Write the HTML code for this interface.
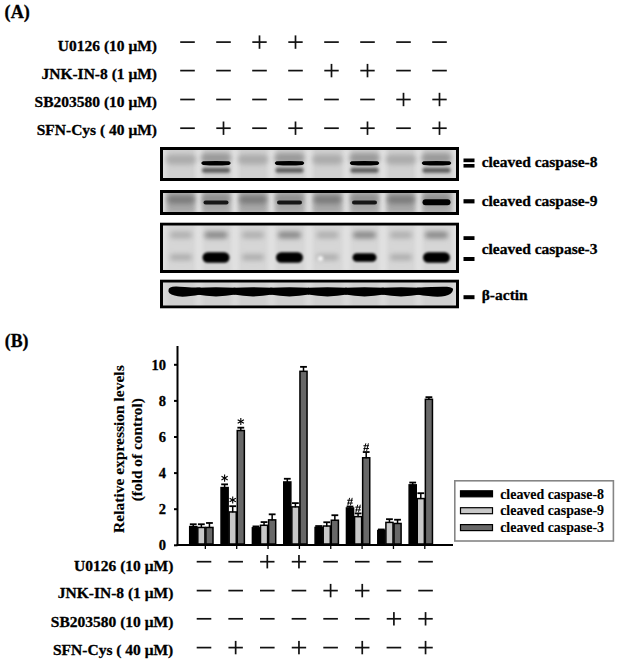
<!DOCTYPE html>
<html><head><meta charset="utf-8"><style>
html,body{margin:0;padding:0;background:#fff;width:621px;height:663px;overflow:hidden}
svg{display:block}
</style></head><body>
<svg width="621" height="663" viewBox="0 0 621 663">
<defs>
<filter id="b1" x="-50%" y="-100%" width="200%" height="300%"><feGaussianBlur stdDeviation="1.6"/></filter>
<filter id="b2" x="-50%" y="-100%" width="200%" height="300%"><feGaussianBlur stdDeviation="2.5"/></filter>
<filter id="b3" x="-50%" y="-50%" width="200%" height="200%"><feGaussianBlur stdDeviation="4"/></filter>
<filter id="b06" x="-50%" y="-100%" width="200%" height="300%"><feGaussianBlur stdDeviation="0.6"/></filter>
<filter id="b05" x="-50%" y="-100%" width="200%" height="300%"><feGaussianBlur stdDeviation="0.9"/></filter>
</defs>
<rect width="621" height="663" fill="#fff"/>
<text x="4.6" y="17.8" font-family='"Liberation Serif", serif' font-size="18.2" font-weight="bold" text-anchor="start" fill="#000" stroke="#000" stroke-width="0.3" >(A)</text>
<text x="157" y="50.7" font-family='"Liberation Serif", serif' font-size="15.5" font-weight="bold" text-anchor="end" fill="#000" stroke="#000" stroke-width="0.3" >U0126 (10 μM)</text>
<rect x="180.20" y="41.25" width="14.60" height="1.7" fill="#111"/>
<rect x="216.20" y="41.25" width="14.60" height="1.7" fill="#111"/>
<rect x="252.30" y="41.25" width="14.40" height="1.7" fill="#111"/>
<rect x="258.65" y="35.40" width="1.7" height="13.40" fill="#111"/>
<rect x="288.30" y="41.25" width="14.40" height="1.7" fill="#111"/>
<rect x="294.65" y="35.40" width="1.7" height="13.40" fill="#111"/>
<rect x="324.20" y="41.25" width="14.60" height="1.7" fill="#111"/>
<rect x="360.20" y="41.25" width="14.60" height="1.7" fill="#111"/>
<rect x="396.20" y="41.25" width="14.60" height="1.7" fill="#111"/>
<rect x="432.20" y="41.25" width="14.60" height="1.7" fill="#111"/>
<text x="157" y="78.6" font-family='"Liberation Serif", serif' font-size="15.5" font-weight="bold" text-anchor="end" fill="#000" stroke="#000" stroke-width="0.3" >JNK-IN-8 (1 μM)</text>
<rect x="180.20" y="69.75" width="14.60" height="1.7" fill="#111"/>
<rect x="216.20" y="69.75" width="14.60" height="1.7" fill="#111"/>
<rect x="252.20" y="69.75" width="14.60" height="1.7" fill="#111"/>
<rect x="288.20" y="69.75" width="14.60" height="1.7" fill="#111"/>
<rect x="324.30" y="69.75" width="14.40" height="1.7" fill="#111"/>
<rect x="330.65" y="63.90" width="1.7" height="13.40" fill="#111"/>
<rect x="360.30" y="69.75" width="14.40" height="1.7" fill="#111"/>
<rect x="366.65" y="63.90" width="1.7" height="13.40" fill="#111"/>
<rect x="396.20" y="69.75" width="14.60" height="1.7" fill="#111"/>
<rect x="432.20" y="69.75" width="14.60" height="1.7" fill="#111"/>
<text x="157" y="106.7" font-family='"Liberation Serif", serif' font-size="15.5" font-weight="bold" text-anchor="end" fill="#000" stroke="#000" stroke-width="0.3" >SB203580 (10 μM)</text>
<rect x="180.20" y="98.65" width="14.60" height="1.7" fill="#111"/>
<rect x="216.20" y="98.65" width="14.60" height="1.7" fill="#111"/>
<rect x="252.20" y="98.65" width="14.60" height="1.7" fill="#111"/>
<rect x="288.20" y="98.65" width="14.60" height="1.7" fill="#111"/>
<rect x="324.20" y="98.65" width="14.60" height="1.7" fill="#111"/>
<rect x="360.20" y="98.65" width="14.60" height="1.7" fill="#111"/>
<rect x="396.30" y="98.65" width="14.40" height="1.7" fill="#111"/>
<rect x="402.65" y="92.80" width="1.7" height="13.40" fill="#111"/>
<rect x="432.30" y="98.65" width="14.40" height="1.7" fill="#111"/>
<rect x="438.65" y="92.80" width="1.7" height="13.40" fill="#111"/>
<text x="157" y="134.6" font-family='"Liberation Serif", serif' font-size="15.5" font-weight="bold" text-anchor="end" fill="#000" stroke="#000" stroke-width="0.3" >SFN-Cys ( 40 μM)</text>
<rect x="180.20" y="127.35" width="14.60" height="1.7" fill="#111"/>
<rect x="216.30" y="127.35" width="14.40" height="1.7" fill="#111"/>
<rect x="222.65" y="121.50" width="1.7" height="13.40" fill="#111"/>
<rect x="252.20" y="127.35" width="14.60" height="1.7" fill="#111"/>
<rect x="288.30" y="127.35" width="14.40" height="1.7" fill="#111"/>
<rect x="294.65" y="121.50" width="1.7" height="13.40" fill="#111"/>
<rect x="324.20" y="127.35" width="14.60" height="1.7" fill="#111"/>
<rect x="360.30" y="127.35" width="14.40" height="1.7" fill="#111"/>
<rect x="366.65" y="121.50" width="1.7" height="13.40" fill="#111"/>
<rect x="396.20" y="127.35" width="14.60" height="1.7" fill="#111"/>
<rect x="432.30" y="127.35" width="14.40" height="1.7" fill="#111"/>
<rect x="438.65" y="121.50" width="1.7" height="13.40" fill="#111"/>
<clipPath id="clip147"><rect x="160" y="147" width="299" height="34"/></clipPath>
<g clip-path="url(#clip147)">
<rect x="160" y="147" width="299" height="34" fill="#d0d0d0"/>
<rect x="159.5" y="147" width="6" height="34" fill="#e4e4e4" filter="url(#b2)"/>
<rect x="196" y="147" width="6" height="34" fill="#e4e4e4" filter="url(#b2)"/>
<rect x="232" y="147" width="6" height="34" fill="#e4e4e4" filter="url(#b2)"/>
<rect x="268.5" y="147" width="6" height="34" fill="#e4e4e4" filter="url(#b2)"/>
<rect x="306" y="147" width="6" height="34" fill="#e4e4e4" filter="url(#b2)"/>
<rect x="343.5" y="147" width="6" height="34" fill="#e4e4e4" filter="url(#b2)"/>
<rect x="380" y="147" width="6" height="34" fill="#e4e4e4" filter="url(#b2)"/>
<rect x="416" y="147" width="6" height="34" fill="#e4e4e4" filter="url(#b2)"/>
<rect x="453" y="147" width="6" height="34" fill="#e4e4e4" filter="url(#b2)"/>
<rect x="166.00" y="154.50" width="30.00" height="10.00" rx="5.00" fill="#acacac" opacity="1" filter="url(#b2)"/>
<rect x="201.00" y="153.00" width="30.00" height="10.00" rx="5.00" fill="#9a9a9a" opacity="1" filter="url(#b2)"/>
<path d="M203,161.2 Q216,160.9 229,161.2 Q232.5,163.0 229,164.9 Q216,165.9 203,164.9 Q199.5,163.0 203,161.2 Z" fill="#000" filter="url(#b06)"/>
<rect x="202.00" y="167.70" width="28.00" height="5.00" rx="2.50" fill="#5e5e5e" opacity="1" filter="url(#b1)"/>
<rect x="238.00" y="154.50" width="30.00" height="10.00" rx="5.00" fill="#acacac" opacity="1" filter="url(#b2)"/>
<rect x="274.50" y="153.00" width="30.00" height="10.00" rx="5.00" fill="#9a9a9a" opacity="1" filter="url(#b2)"/>
<path d="M276.5,161.2 Q289.5,160.9 302.5,161.2 Q306.0,163.0 302.5,164.9 Q289.5,165.9 276.5,164.9 Q273.0,163.0 276.5,161.2 Z" fill="#000" filter="url(#b06)"/>
<rect x="275.50" y="167.70" width="28.00" height="5.00" rx="2.50" fill="#5e5e5e" opacity="1" filter="url(#b1)"/>
<rect x="312.50" y="154.50" width="30.00" height="10.00" rx="5.00" fill="#acacac" opacity="1" filter="url(#b2)"/>
<rect x="349.50" y="153.00" width="30.00" height="10.00" rx="5.00" fill="#9a9a9a" opacity="1" filter="url(#b2)"/>
<path d="M351.5,161.2 Q364.5,160.9 377.5,161.2 Q381.0,163.0 377.5,164.9 Q364.5,165.9 351.5,164.9 Q348.0,163.0 351.5,161.2 Z" fill="#000" filter="url(#b06)"/>
<rect x="350.50" y="167.70" width="28.00" height="5.00" rx="2.50" fill="#5e5e5e" opacity="1" filter="url(#b1)"/>
<rect x="386.00" y="154.50" width="30.00" height="10.00" rx="5.00" fill="#acacac" opacity="1" filter="url(#b2)"/>
<rect x="421.50" y="153.00" width="30.00" height="10.00" rx="5.00" fill="#9a9a9a" opacity="1" filter="url(#b2)"/>
<path d="M423.5,161.2 Q436.5,160.9 449.5,161.2 Q453.0,163.0 449.5,164.9 Q436.5,165.9 423.5,164.9 Q420.0,163.0 423.5,161.2 Z" fill="#000" filter="url(#b06)"/>
<rect x="422.50" y="167.70" width="28.00" height="5.00" rx="2.50" fill="#5e5e5e" opacity="1" filter="url(#b1)"/>
<rect x="161.5" y="148.5" width="296" height="31" fill="none" stroke="#000" stroke-width="3"/>
</g>
<clipPath id="clip190"><rect x="160" y="190" width="299" height="25"/></clipPath>
<g clip-path="url(#clip190)">
<rect x="160" y="190" width="299" height="25" fill="#bcbcbc"/>
<rect x="159.5" y="190" width="6" height="25" fill="#e6e6e6" filter="url(#b2)"/>
<rect x="196" y="190" width="6" height="25" fill="#e6e6e6" filter="url(#b2)"/>
<rect x="232" y="190" width="6" height="25" fill="#e6e6e6" filter="url(#b2)"/>
<rect x="268.5" y="190" width="6" height="25" fill="#e6e6e6" filter="url(#b2)"/>
<rect x="306" y="190" width="6" height="25" fill="#e6e6e6" filter="url(#b2)"/>
<rect x="343.5" y="190" width="6" height="25" fill="#e6e6e6" filter="url(#b2)"/>
<rect x="380" y="190" width="6" height="25" fill="#e6e6e6" filter="url(#b2)"/>
<rect x="416" y="190" width="6" height="25" fill="#e6e6e6" filter="url(#b2)"/>
<rect x="453" y="190" width="6" height="25" fill="#e6e6e6" filter="url(#b2)"/>
<rect x="168" y="193" width="26" height="19" fill="#a6a6a6" filter="url(#b2)"/>
<rect x="203" y="193" width="26" height="19" fill="#a6a6a6" filter="url(#b2)"/>
<rect x="240" y="193" width="26" height="19" fill="#a6a6a6" filter="url(#b2)"/>
<rect x="276.5" y="193" width="26" height="19" fill="#a6a6a6" filter="url(#b2)"/>
<rect x="314.5" y="193" width="26" height="19" fill="#a6a6a6" filter="url(#b2)"/>
<rect x="351.5" y="193" width="26" height="19" fill="#a6a6a6" filter="url(#b2)"/>
<rect x="388" y="193" width="26" height="19" fill="#a6a6a6" filter="url(#b2)"/>
<rect x="423.5" y="193" width="26" height="19" fill="#a6a6a6" filter="url(#b2)"/>
<rect x="167.50" y="195.50" width="27.00" height="8.00" rx="4.00" fill="#7a7a7a" opacity="1" filter="url(#b2)"/>
<rect x="202.50" y="195.00" width="27.00" height="8.00" rx="4.00" fill="#8e8e8e" opacity="1" filter="url(#b2)"/>
<rect x="203.50" y="200.60" width="25.00" height="4.00" rx="2.00" fill="#181818" opacity="1" filter="url(#b06)"/>
<rect x="239.50" y="195.50" width="27.00" height="8.00" rx="4.00" fill="#7a7a7a" opacity="1" filter="url(#b2)"/>
<rect x="276.00" y="195.00" width="27.00" height="8.00" rx="4.00" fill="#8e8e8e" opacity="1" filter="url(#b2)"/>
<rect x="277.00" y="200.60" width="25.00" height="4.00" rx="2.00" fill="#181818" opacity="1" filter="url(#b06)"/>
<rect x="314.00" y="195.50" width="27.00" height="8.00" rx="4.00" fill="#7a7a7a" opacity="1" filter="url(#b2)"/>
<rect x="351.00" y="195.00" width="27.00" height="8.00" rx="4.00" fill="#8e8e8e" opacity="1" filter="url(#b2)"/>
<rect x="352.00" y="200.60" width="25.00" height="4.00" rx="2.00" fill="#181818" opacity="1" filter="url(#b06)"/>
<rect x="387.50" y="195.50" width="27.00" height="8.00" rx="4.00" fill="#7a7a7a" opacity="1" filter="url(#b2)"/>
<rect x="423.00" y="195.00" width="27.00" height="8.00" rx="4.00" fill="#8e8e8e" opacity="1" filter="url(#b2)"/>
<rect x="424.00" y="200.60" width="25.00" height="4.00" rx="2.00" fill="#181818" opacity="1" filter="url(#b06)"/>
<rect x="422.50" y="199.20" width="28.00" height="6.00" rx="3.00" fill="#000" opacity="1" filter="url(#b06)"/>
<rect x="161.5" y="191.5" width="296" height="22" fill="none" stroke="#000" stroke-width="3"/>
</g>
<clipPath id="clip222"><rect x="160" y="222.5" width="299" height="50.5"/></clipPath>
<g clip-path="url(#clip222)">
<rect x="160" y="222.5" width="299" height="50.5" fill="#d6d6d6"/>
<rect x="159.5" y="222.5" width="6" height="50.5" fill="#e4e4e4" filter="url(#b2)"/>
<rect x="196" y="222.5" width="6" height="50.5" fill="#e4e4e4" filter="url(#b2)"/>
<rect x="232" y="222.5" width="6" height="50.5" fill="#e4e4e4" filter="url(#b2)"/>
<rect x="268.5" y="222.5" width="6" height="50.5" fill="#e4e4e4" filter="url(#b2)"/>
<rect x="306" y="222.5" width="6" height="50.5" fill="#e4e4e4" filter="url(#b2)"/>
<rect x="343.5" y="222.5" width="6" height="50.5" fill="#e4e4e4" filter="url(#b2)"/>
<rect x="380" y="222.5" width="6" height="50.5" fill="#e4e4e4" filter="url(#b2)"/>
<rect x="416" y="222.5" width="6" height="50.5" fill="#e4e4e4" filter="url(#b2)"/>
<rect x="453" y="222.5" width="6" height="50.5" fill="#e4e4e4" filter="url(#b2)"/>
<rect x="170.00" y="231.50" width="22.00" height="7.00" rx="3.50" fill="#b0b0b0" opacity="1" filter="url(#b2)"/>
<rect x="170.00" y="254.30" width="22.00" height="6.00" rx="3.00" fill="#acacac" opacity="1" filter="url(#b2)"/>
<rect x="204.50" y="231.50" width="23.00" height="7.00" rx="3.50" fill="#8a8a8a" opacity="1" filter="url(#b2)"/>
<rect x="202.50" y="252.25" width="27.00" height="10.50" rx="5.25" fill="#000" opacity="1" filter="url(#b05)"/>
<rect x="242.00" y="231.50" width="22.00" height="7.00" rx="3.50" fill="#b0b0b0" opacity="1" filter="url(#b2)"/>
<rect x="242.00" y="254.30" width="22.00" height="6.00" rx="3.00" fill="#acacac" opacity="1" filter="url(#b2)"/>
<rect x="278.00" y="231.50" width="23.00" height="7.00" rx="3.50" fill="#8a8a8a" opacity="1" filter="url(#b2)"/>
<rect x="276.00" y="252.25" width="27.00" height="10.50" rx="5.25" fill="#000" opacity="1" filter="url(#b05)"/>
<rect x="316.50" y="231.50" width="22.00" height="7.00" rx="3.50" fill="#b0b0b0" opacity="1" filter="url(#b2)"/>
<rect x="316.50" y="254.30" width="22.00" height="6.00" rx="3.00" fill="#acacac" opacity="1" filter="url(#b2)"/>
<rect x="353.00" y="231.50" width="23.00" height="7.00" rx="3.50" fill="#8a8a8a" opacity="1" filter="url(#b2)"/>
<rect x="352.50" y="253.25" width="24.00" height="8.50" rx="4.25" fill="#000" opacity="1" filter="url(#b05)"/>
<rect x="390.00" y="231.50" width="22.00" height="7.00" rx="3.50" fill="#b0b0b0" opacity="1" filter="url(#b2)"/>
<rect x="390.00" y="254.30" width="22.00" height="6.00" rx="3.00" fill="#acacac" opacity="1" filter="url(#b2)"/>
<rect x="425.00" y="231.50" width="23.00" height="7.00" rx="3.50" fill="#8a8a8a" opacity="1" filter="url(#b2)"/>
<rect x="423.00" y="252.25" width="27.00" height="10.50" rx="5.25" fill="#000" opacity="1" filter="url(#b05)"/>
<ellipse cx="320.5" cy="258.5" rx="2.5" ry="2.5" fill="#fff" opacity="1" filter="url(#b1)"/>
<rect x="161.5" y="224.0" width="296" height="47.5" fill="none" stroke="#000" stroke-width="3"/>
</g>
<clipPath id="clip279"><rect x="160" y="279.5" width="299" height="29.0"/></clipPath>
<g clip-path="url(#clip279)">
<rect x="160" y="279.5" width="299" height="29.0" fill="#d0d0d0"/>
<rect x="159.5" y="279.5" width="6" height="29.0" fill="#dcdcdc" filter="url(#b2)"/>
<rect x="196" y="279.5" width="6" height="29.0" fill="#dcdcdc" filter="url(#b2)"/>
<rect x="232" y="279.5" width="6" height="29.0" fill="#dcdcdc" filter="url(#b2)"/>
<rect x="268.5" y="279.5" width="6" height="29.0" fill="#dcdcdc" filter="url(#b2)"/>
<rect x="306" y="279.5" width="6" height="29.0" fill="#dcdcdc" filter="url(#b2)"/>
<rect x="343.5" y="279.5" width="6" height="29.0" fill="#dcdcdc" filter="url(#b2)"/>
<rect x="380" y="279.5" width="6" height="29.0" fill="#dcdcdc" filter="url(#b2)"/>
<rect x="416" y="279.5" width="6" height="29.0" fill="#dcdcdc" filter="url(#b2)"/>
<rect x="453" y="279.5" width="6" height="29.0" fill="#dcdcdc" filter="url(#b2)"/>
<g filter="url(#b06)">
<path d="M168.5,290.0 Q168.5,286.2 176.5,286.4 Q181,287.0 200.5,287.6 L200.5,294.6 Q181,298.2 174.5,295.5 Q167.5,293.5 168.5,290.0 Z" fill="#050505"/>
<path d="M196.5,287.7 Q216,286.8 235.5,287.7 L235.5,294.6 Q216,298.2 196.5,294.6 Z" fill="#050505"/>
<path d="M233.5,287.7 Q253,286.8 272.5,287.7 L272.5,294.6 Q253,298.2 233.5,294.6 Z" fill="#050505"/>
<path d="M270.0,287.7 Q289.5,286.8 309.0,287.7 L309.0,294.6 Q289.5,298.2 270.0,294.6 Z" fill="#050505"/>
<path d="M308.0,287.7 Q327.5,286.8 347.0,287.7 L347.0,294.6 Q327.5,298.2 308.0,294.6 Z" fill="#050505"/>
<path d="M345.0,287.7 Q364.5,286.8 384.0,287.7 L384.0,294.6 Q364.5,298.2 345.0,294.6 Z" fill="#050505"/>
<path d="M381.5,287.7 Q401,286.8 420.5,287.7 L420.5,294.6 Q401,298.2 381.5,294.6 Z" fill="#050505"/>
<path d="M417.0,287.8 Q436.5,286.5 447,286.8 Q454,287.5 453,290.0 Q452,294.5 445,296.0 Q436.5,297.8 417.0,294.6 Z" fill="#050505"/>
</g>
<rect x="161.5" y="281.0" width="296" height="26.0" fill="none" stroke="#000" stroke-width="3"/>
</g>
<rect x="463.5" y="158.5" width="11" height="3.70" fill="#000"/>
<rect x="463.5" y="164.0" width="11" height="3.60" fill="#000"/>
<rect x="463.5" y="199.2" width="11" height="4.20" fill="#000"/>
<rect x="463.5" y="236.2" width="11" height="3.80" fill="#000"/>
<rect x="463.5" y="257.0" width="11" height="4.00" fill="#000"/>
<rect x="463.5" y="295.2" width="11" height="4.00" fill="#000"/>
<text x="481.7" y="166.9" font-family='"Liberation Serif", serif' font-size="15.5" font-weight="bold" text-anchor="start" fill="#000" stroke="#000" stroke-width="0.3" >cleaved caspase-8</text>
<text x="481.7" y="205.9" font-family='"Liberation Serif", serif' font-size="15.5" font-weight="bold" text-anchor="start" fill="#000" stroke="#000" stroke-width="0.3" >cleaved caspase-9</text>
<text x="481.7" y="253.8" font-family='"Liberation Serif", serif' font-size="15.5" font-weight="bold" text-anchor="start" fill="#000" stroke="#000" stroke-width="0.3" >cleaved caspase-3</text>
<text x="481.7" y="300.4" font-family='"Liberation Serif", serif' font-size="15.5" font-weight="bold" text-anchor="start" fill="#000" stroke="#000" stroke-width="0.3" >β-actin</text>
<text x="4.8" y="346.6" font-family='"Liberation Serif", serif' font-size="17.8" font-weight="bold" text-anchor="start" fill="#000" stroke="#000" stroke-width="0.3" >(B)</text>
<text transform="translate(123.6,449.1) rotate(-90)" font-family='"Liberation Serif", serif' font-size="15.5" font-weight="bold" stroke="#000" stroke-width="0.15" text-anchor="middle">Relative expression levels</text>
<text transform="translate(141.8,449.7) rotate(-90)" font-family='"Liberation Serif", serif' font-size="15.4" font-weight="bold" stroke="#000" stroke-width="0.15" text-anchor="middle">(fold of control)</text>
<rect x="174" y="544.30" width="3.5" height="2" fill="#000"/>
<text x="166" y="550.0" font-family='"Liberation Serif", serif' font-size="14.5" font-weight="bold" text-anchor="end" fill="#000" stroke="#000" stroke-width="0.3" >0</text>
<rect x="174" y="508.20" width="3.5" height="2" fill="#000"/>
<text x="166" y="513.9" font-family='"Liberation Serif", serif' font-size="14.5" font-weight="bold" text-anchor="end" fill="#000" stroke="#000" stroke-width="0.3" >2</text>
<rect x="174" y="472.10" width="3.5" height="2" fill="#000"/>
<text x="166" y="477.8" font-family='"Liberation Serif", serif' font-size="14.5" font-weight="bold" text-anchor="end" fill="#000" stroke="#000" stroke-width="0.3" >4</text>
<rect x="174" y="436.00" width="3.5" height="2" fill="#000"/>
<text x="166" y="441.7" font-family='"Liberation Serif", serif' font-size="14.5" font-weight="bold" text-anchor="end" fill="#000" stroke="#000" stroke-width="0.3" >6</text>
<rect x="174" y="399.90" width="3.5" height="2" fill="#000"/>
<text x="166" y="405.6" font-family='"Liberation Serif", serif' font-size="14.5" font-weight="bold" text-anchor="end" fill="#000" stroke="#000" stroke-width="0.3" >8</text>
<rect x="174" y="363.80" width="3.5" height="2" fill="#000"/>
<text x="166" y="369.5" font-family='"Liberation Serif", serif' font-size="14.5" font-weight="bold" text-anchor="end" fill="#000" stroke="#000" stroke-width="0.3" >10</text>
<rect x="176.5" y="346" width="2" height="200.0" fill="#000"/>
<rect x="176.5" y="544.0" width="276.5" height="2" fill="#000"/>
<rect x="204.70" y="545.0" width="1.3" height="4" fill="#000"/>
<rect x="236.05" y="545.0" width="1.3" height="4" fill="#000"/>
<rect x="267.40" y="545.0" width="1.3" height="4" fill="#000"/>
<rect x="298.75" y="545.0" width="1.3" height="4" fill="#000"/>
<rect x="330.10" y="545.0" width="1.3" height="4" fill="#000"/>
<rect x="361.45" y="545.0" width="1.3" height="4" fill="#000"/>
<rect x="392.80" y="545.0" width="1.3" height="4" fill="#000"/>
<rect x="424.15" y="545.0" width="1.3" height="4" fill="#000"/>
<rect x="189.70" y="526.55" width="7.10" height="17.45" fill="#000" stroke="#000" stroke-width="1.5"/>
<rect x="197.80" y="527.45" width="7.10" height="16.55" fill="#c8c8c8" stroke="#000" stroke-width="1.5"/>
<rect x="205.90" y="527.45" width="7.10" height="16.55" fill="#686868" stroke="#000" stroke-width="1.5"/>
<rect x="192.50" y="524.24" width="1.5" height="2.81" fill="#000"/>
<rect x="189.85" y="523.34" width="6.8" height="1.8" fill="#000"/>
<rect x="200.60" y="524.24" width="1.5" height="3.71" fill="#000"/>
<rect x="197.95" y="523.34" width="6.8" height="1.8" fill="#000"/>
<rect x="208.70" y="522.98" width="1.5" height="4.97" fill="#000"/>
<rect x="206.05" y="522.08" width="6.8" height="1.8" fill="#000"/>
<rect x="221.05" y="487.56" width="7.10" height="56.44" fill="#000" stroke="#000" stroke-width="1.5"/>
<rect x="229.15" y="511.93" width="7.10" height="32.07" fill="#c8c8c8" stroke="#000" stroke-width="1.5"/>
<rect x="237.25" y="430.52" width="7.10" height="113.48" fill="#686868" stroke="#000" stroke-width="1.5"/>
<rect x="223.85" y="484.35" width="1.5" height="3.71" fill="#000"/>
<rect x="221.20" y="483.45" width="6.8" height="1.8" fill="#000"/>
<line x1="224.60" y1="474.55" x2="224.60" y2="481.75" stroke="#000" stroke-width="1.1"/>
<line x1="221.48" y1="476.35" x2="227.72" y2="479.95" stroke="#000" stroke-width="1.1"/>
<line x1="227.72" y1="476.35" x2="221.48" y2="479.95" stroke="#000" stroke-width="1.1"/>
<rect x="231.95" y="506.19" width="1.5" height="6.23" fill="#000"/>
<rect x="229.30" y="505.29" width="6.8" height="1.8" fill="#000"/>
<line x1="232.70" y1="496.39" x2="232.70" y2="503.59" stroke="#000" stroke-width="1.1"/>
<line x1="229.58" y1="498.19" x2="235.82" y2="501.79" stroke="#000" stroke-width="1.1"/>
<line x1="235.82" y1="498.19" x2="229.58" y2="501.79" stroke="#000" stroke-width="1.1"/>
<rect x="240.05" y="427.68" width="1.5" height="3.35" fill="#000"/>
<rect x="237.40" y="426.78" width="6.8" height="1.8" fill="#000"/>
<line x1="240.80" y1="417.88" x2="240.80" y2="425.08" stroke="#000" stroke-width="1.1"/>
<line x1="237.68" y1="419.68" x2="243.92" y2="423.28" stroke="#000" stroke-width="1.1"/>
<line x1="243.92" y1="419.68" x2="237.68" y2="423.28" stroke="#000" stroke-width="1.1"/>
<rect x="252.40" y="527.81" width="7.10" height="16.19" fill="#000" stroke="#000" stroke-width="1.5"/>
<rect x="260.50" y="525.28" width="7.10" height="18.72" fill="#c8c8c8" stroke="#000" stroke-width="1.5"/>
<rect x="268.60" y="519.87" width="7.10" height="24.13" fill="#686868" stroke="#000" stroke-width="1.5"/>
<rect x="255.20" y="526.41" width="1.5" height="1.90" fill="#000"/>
<rect x="252.55" y="525.51" width="6.8" height="1.8" fill="#000"/>
<rect x="263.30" y="522.08" width="1.5" height="3.71" fill="#000"/>
<rect x="260.65" y="521.18" width="6.8" height="1.8" fill="#000"/>
<rect x="271.40" y="514.32" width="1.5" height="6.05" fill="#000"/>
<rect x="268.75" y="513.42" width="6.8" height="1.8" fill="#000"/>
<rect x="283.75" y="481.96" width="7.10" height="62.04" fill="#000" stroke="#000" stroke-width="1.5"/>
<rect x="291.85" y="506.87" width="7.10" height="37.13" fill="#c8c8c8" stroke="#000" stroke-width="1.5"/>
<rect x="299.95" y="371.32" width="7.10" height="172.68" fill="#686868" stroke="#000" stroke-width="1.5"/>
<rect x="286.55" y="478.76" width="1.5" height="3.71" fill="#000"/>
<rect x="283.90" y="477.86" width="6.8" height="1.8" fill="#000"/>
<rect x="294.65" y="503.12" width="1.5" height="4.25" fill="#000"/>
<rect x="292.00" y="502.22" width="6.8" height="1.8" fill="#000"/>
<rect x="302.75" y="366.85" width="1.5" height="4.97" fill="#000"/>
<rect x="300.10" y="365.95" width="6.8" height="1.8" fill="#000"/>
<rect x="315.10" y="527.45" width="7.10" height="16.55" fill="#000" stroke="#000" stroke-width="1.5"/>
<rect x="323.20" y="526.01" width="7.10" height="17.99" fill="#c8c8c8" stroke="#000" stroke-width="1.5"/>
<rect x="331.30" y="520.23" width="7.10" height="23.77" fill="#686868" stroke="#000" stroke-width="1.5"/>
<rect x="317.90" y="526.05" width="1.5" height="1.90" fill="#000"/>
<rect x="315.25" y="525.15" width="6.8" height="1.8" fill="#000"/>
<rect x="326.00" y="522.26" width="1.5" height="4.25" fill="#000"/>
<rect x="323.35" y="521.36" width="6.8" height="1.8" fill="#000"/>
<rect x="334.10" y="515.22" width="1.5" height="5.51" fill="#000"/>
<rect x="331.45" y="514.32" width="6.8" height="1.8" fill="#000"/>
<rect x="346.45" y="507.96" width="7.10" height="36.04" fill="#000" stroke="#000" stroke-width="1.5"/>
<rect x="354.55" y="516.62" width="7.10" height="27.38" fill="#c8c8c8" stroke="#000" stroke-width="1.5"/>
<rect x="362.65" y="457.78" width="7.10" height="86.22" fill="#686868" stroke="#000" stroke-width="1.5"/>
<rect x="349.25" y="506.55" width="1.5" height="1.90" fill="#000"/>
<rect x="346.60" y="505.65" width="6.8" height="1.8" fill="#000"/>
<line x1="349.60" y1="497.85" x2="347.80" y2="505.45" stroke="#000" stroke-width="0.95"/>
<line x1="352.20" y1="497.85" x2="350.40" y2="505.45" stroke="#000" stroke-width="0.95"/>
<line x1="347.20" y1="500.25" x2="352.80" y2="500.25" stroke="#000" stroke-width="0.95"/>
<line x1="347.20" y1="503.05" x2="352.80" y2="503.05" stroke="#000" stroke-width="0.95"/>
<rect x="357.35" y="513.41" width="1.5" height="3.71" fill="#000"/>
<rect x="354.70" y="512.51" width="6.8" height="1.8" fill="#000"/>
<line x1="357.70" y1="504.71" x2="355.90" y2="512.31" stroke="#000" stroke-width="0.95"/>
<line x1="360.30" y1="504.71" x2="358.50" y2="512.31" stroke="#000" stroke-width="0.95"/>
<line x1="355.30" y1="507.11" x2="360.90" y2="507.11" stroke="#000" stroke-width="0.95"/>
<line x1="355.30" y1="509.91" x2="360.90" y2="509.91" stroke="#000" stroke-width="0.95"/>
<rect x="365.45" y="452.04" width="1.5" height="6.23" fill="#000"/>
<rect x="362.80" y="451.14" width="6.8" height="1.8" fill="#000"/>
<line x1="365.80" y1="443.34" x2="364.00" y2="450.94" stroke="#000" stroke-width="0.95"/>
<line x1="368.40" y1="443.34" x2="366.60" y2="450.94" stroke="#000" stroke-width="0.95"/>
<line x1="363.40" y1="445.74" x2="369.00" y2="445.74" stroke="#000" stroke-width="0.95"/>
<line x1="363.40" y1="448.54" x2="369.00" y2="448.54" stroke="#000" stroke-width="0.95"/>
<rect x="377.80" y="530.52" width="7.10" height="13.48" fill="#000" stroke="#000" stroke-width="1.5"/>
<rect x="385.90" y="522.40" width="7.10" height="21.60" fill="#c8c8c8" stroke="#000" stroke-width="1.5"/>
<rect x="394.00" y="523.48" width="7.10" height="20.52" fill="#686868" stroke="#000" stroke-width="1.5"/>
<rect x="380.60" y="529.48" width="1.5" height="1.54" fill="#000"/>
<rect x="377.95" y="528.58" width="6.8" height="1.8" fill="#000"/>
<rect x="388.70" y="519.19" width="1.5" height="3.71" fill="#000"/>
<rect x="386.05" y="518.29" width="6.8" height="1.8" fill="#000"/>
<rect x="396.80" y="519.73" width="1.5" height="4.25" fill="#000"/>
<rect x="394.15" y="518.83" width="6.8" height="1.8" fill="#000"/>
<rect x="409.15" y="484.85" width="7.10" height="59.15" fill="#000" stroke="#000" stroke-width="1.5"/>
<rect x="417.25" y="498.57" width="7.10" height="45.43" fill="#c8c8c8" stroke="#000" stroke-width="1.5"/>
<rect x="425.35" y="399.29" width="7.10" height="144.71" fill="#686868" stroke="#000" stroke-width="1.5"/>
<rect x="411.95" y="482.55" width="1.5" height="2.80" fill="#000"/>
<rect x="409.30" y="481.65" width="6.8" height="1.8" fill="#000"/>
<rect x="420.05" y="493.20" width="1.5" height="5.87" fill="#000"/>
<rect x="417.40" y="492.30" width="6.8" height="1.8" fill="#000"/>
<rect x="428.15" y="397.17" width="1.5" height="2.62" fill="#000"/>
<rect x="425.50" y="396.27" width="6.8" height="1.8" fill="#000"/>
<rect x="454.8" y="480.8" width="158.6" height="60.2" fill="#fff" stroke="#858585" stroke-width="1.6"/>
<rect x="460.5" y="490.8" width="32" height="6" fill="#000" stroke="#000" stroke-width="1.2"/>
<text x="500.2" y="499.0" font-family='"Liberation Serif", serif' font-size="13.9" font-weight="bold" text-anchor="start" fill="#000" stroke="#000" stroke-width="0.12" >cleaved caspase-8</text>
<rect x="460.5" y="507.70000000000005" width="32" height="6" fill="#c8c8c8" stroke="#000" stroke-width="1.2"/>
<text x="500.2" y="515.3000000000001" font-family='"Liberation Serif", serif' font-size="13.9" font-weight="bold" text-anchor="start" fill="#000" stroke="#000" stroke-width="0.12" >cleaved caspase-9</text>
<rect x="460.5" y="524.6" width="32" height="6" fill="#686868" stroke="#000" stroke-width="1.2"/>
<text x="500.2" y="531.6" font-family='"Liberation Serif", serif' font-size="13.9" font-weight="bold" text-anchor="start" fill="#000" stroke="#000" stroke-width="0.12" >cleaved caspase-3</text>
<text x="173.3" y="571" font-family='"Liberation Serif", serif' font-size="15.5" font-weight="bold" text-anchor="end" fill="#000" stroke="#000" stroke-width="0.3" >U0126 (10 μM)</text>
<rect x="196.70" y="560.85" width="14.60" height="1.7" fill="#111"/>
<rect x="228.35" y="560.85" width="14.60" height="1.7" fill="#111"/>
<rect x="260.10" y="560.85" width="14.40" height="1.7" fill="#111"/>
<rect x="266.45" y="555.00" width="1.7" height="13.40" fill="#111"/>
<rect x="291.75" y="560.85" width="14.40" height="1.7" fill="#111"/>
<rect x="298.10" y="555.00" width="1.7" height="13.40" fill="#111"/>
<rect x="323.30" y="560.85" width="14.60" height="1.7" fill="#111"/>
<rect x="354.95" y="560.85" width="14.60" height="1.7" fill="#111"/>
<rect x="386.60" y="560.85" width="14.60" height="1.7" fill="#111"/>
<rect x="418.25" y="560.85" width="14.60" height="1.7" fill="#111"/>
<text x="173.3" y="598.4" font-family='"Liberation Serif", serif' font-size="15.5" font-weight="bold" text-anchor="end" fill="#000" stroke="#000" stroke-width="0.3" >JNK-IN-8 (1 μM)</text>
<rect x="196.70" y="589.75" width="14.60" height="1.7" fill="#111"/>
<rect x="228.35" y="589.75" width="14.60" height="1.7" fill="#111"/>
<rect x="260.00" y="589.75" width="14.60" height="1.7" fill="#111"/>
<rect x="291.65" y="589.75" width="14.60" height="1.7" fill="#111"/>
<rect x="323.40" y="589.75" width="14.40" height="1.7" fill="#111"/>
<rect x="329.75" y="583.90" width="1.7" height="13.40" fill="#111"/>
<rect x="355.05" y="589.75" width="14.40" height="1.7" fill="#111"/>
<rect x="361.40" y="583.90" width="1.7" height="13.40" fill="#111"/>
<rect x="386.60" y="589.75" width="14.60" height="1.7" fill="#111"/>
<rect x="418.25" y="589.75" width="14.60" height="1.7" fill="#111"/>
<text x="173.3" y="627.1" font-family='"Liberation Serif", serif' font-size="15.5" font-weight="bold" text-anchor="end" fill="#000" stroke="#000" stroke-width="0.3" >SB203580 (10 μM)</text>
<rect x="196.70" y="617.95" width="14.60" height="1.7" fill="#111"/>
<rect x="228.35" y="617.95" width="14.60" height="1.7" fill="#111"/>
<rect x="260.00" y="617.95" width="14.60" height="1.7" fill="#111"/>
<rect x="291.65" y="617.95" width="14.60" height="1.7" fill="#111"/>
<rect x="323.30" y="617.95" width="14.60" height="1.7" fill="#111"/>
<rect x="354.95" y="617.95" width="14.60" height="1.7" fill="#111"/>
<rect x="386.70" y="617.95" width="14.40" height="1.7" fill="#111"/>
<rect x="393.05" y="612.10" width="1.7" height="13.40" fill="#111"/>
<rect x="418.35" y="617.95" width="14.40" height="1.7" fill="#111"/>
<rect x="424.70" y="612.10" width="1.7" height="13.40" fill="#111"/>
<text x="173.3" y="655" font-family='"Liberation Serif", serif' font-size="15.5" font-weight="bold" text-anchor="end" fill="#000" stroke="#000" stroke-width="0.3" >SFN-Cys ( 40 μM)</text>
<rect x="196.70" y="646.75" width="14.60" height="1.7" fill="#111"/>
<rect x="228.45" y="646.75" width="14.40" height="1.7" fill="#111"/>
<rect x="234.80" y="640.90" width="1.7" height="13.40" fill="#111"/>
<rect x="260.00" y="646.75" width="14.60" height="1.7" fill="#111"/>
<rect x="291.75" y="646.75" width="14.40" height="1.7" fill="#111"/>
<rect x="298.10" y="640.90" width="1.7" height="13.40" fill="#111"/>
<rect x="323.30" y="646.75" width="14.60" height="1.7" fill="#111"/>
<rect x="355.05" y="646.75" width="14.40" height="1.7" fill="#111"/>
<rect x="361.40" y="640.90" width="1.7" height="13.40" fill="#111"/>
<rect x="386.60" y="646.75" width="14.60" height="1.7" fill="#111"/>
<rect x="418.35" y="646.75" width="14.40" height="1.7" fill="#111"/>
<rect x="424.70" y="640.90" width="1.7" height="13.40" fill="#111"/>
</svg>
</body></html>
